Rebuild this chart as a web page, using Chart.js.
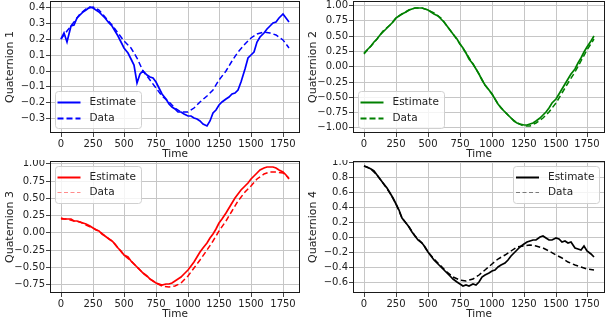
<!DOCTYPE html>
<html><head><meta charset="utf-8">
<script src="https://cdn.jsdelivr.net/npm/chart.js@4.4.1/dist/chart.umd.min.js"></script>
<style>
html,body{margin:0;padding:0;background:#fff;width:606px;height:320px;overflow:hidden}
.c{position:absolute;width:303px;height:160px}
canvas{display:block}
</style></head><body>
<div class="c" style="left:0;top:0"><canvas id="c1" width="303" height="160"></canvas></div>
<div class="c" style="left:303px;top:0"><canvas id="c2" width="303" height="160"></canvas></div>
<div class="c" style="left:0;top:160px"><canvas id="c3" width="303" height="160"></canvas></div>
<div class="c" style="left:303px;top:160px"><canvas id="c4" width="303" height="160"></canvas></div>
<script>
// ---- data ----
const timeEst = [0,25,50,75,100,125,150,175,200,225,250,275,300,325,350,375,400,425,450,475,500,525,550,575,600,625,650,675,700,725,750,775,800,825,850,875,900,925,950,975,1000,1025,1050,1075,1100,1125,1150,1175,1200,1225,1250,1275,1300,1325,1350,1375,1400,1425,1450,1475,1500,1525,1550,1575,1600,1625,1650,1675,1700,1725,1750,1775,1800];
const timeData = [0,50,100,150,200,250,300,350,400,450,500,550,600,650,700,750,800,850,900,950,1000,1050,1100,1150,1200,1250,1300,1350,1400,1450,1500,1550,1600,1650,1700,1750,1800];
const xTickValues = [0,250,500,750,1000,1250,1500,1750];

const q1Estimate = [0.20,0.24,0.18,0.28,0.29,0.33,0.35,0.37,0.385,0.40,
  0.395,0.385,0.37,0.35,0.33,0.30,0.28,0.25,0.22,0.18,
  0.14,0.11,0.07,0.035,-0.08,-0.02,0.00,-0.03,-0.04,-0.05,
  -0.07,-0.11,-0.15,-0.18,-0.21,-0.23,-0.245,-0.26,-0.265,-0.275,
  -0.285,-0.29,-0.30,-0.305,-0.32,-0.335,-0.35,-0.32,-0.27,-0.25,
  -0.22,-0.20,-0.18,-0.17,-0.15,-0.14,-0.12,-0.07,0.01,0.08,
  0.10,0.12,0.18,0.21,0.24,0.26,0.28,0.30,0.31,0.33,
  0.355,0.33,0.31];
const q1Data = [0.20,0.25,0.31,0.36,0.39,0.40,0.38,0.34,0.29,0.24,
  0.19,0.14,0.08,0.00,-0.06,-0.11,-0.16,-0.20,-0.235,-0.26,
  -0.262,-0.235,-0.20,-0.16,-0.12,-0.06,0.00,0.06,0.12,0.17,
  0.205,0.23,0.243,0.24,0.228,0.195,0.145];

const q2Estimate = [0.21,0.27,0.33,0.39,0.45,0.51,0.565,0.625,0.68,0.73,
  0.78,0.82,0.855,0.88,0.91,0.93,0.945,0.95,0.945,0.935,
  0.915,0.89,0.86,0.82,0.77,0.72,0.66,0.59,0.52,0.45,
  0.37,0.29,0.21,0.12,0.04,-0.05,-0.13,-0.22,-0.30,-0.38,
  -0.46,-0.54,-0.61,-0.68,-0.74,-0.80,-0.85,-0.89,-0.92,-0.945,
  -0.955,-0.955,-0.945,-0.92,-0.89,-0.85,-0.80,-0.74,-0.68,-0.60,
  -0.53,-0.45,-0.37,-0.29,-0.21,-0.13,-0.04,0.05,0.14,0.23,
  0.32,0.41,0.50];
const q2Data = [0.20,0.33,0.45,0.57,0.68,0.78,0.85,0.91,0.945,0.95,
  0.92,0.87,0.78,0.66,0.52,0.37,0.21,0.04,-0.13,-0.30,
  -0.46,-0.61,-0.74,-0.85,-0.93,-0.975,-0.97,-0.93,-0.85,-0.74,
  -0.60,-0.44,-0.27,-0.10,0.08,0.26,0.45];

const q3Estimate = [0.21,0.20,0.19,0.19,0.17,0.16,0.15,0.14,0.12,0.09,
  0.07,0.04,0.02,-0.02,-0.05,-0.09,-0.13,-0.17,-0.22,-0.27,
  -0.32,-0.36,-0.41,-0.45,-0.50,-0.55,-0.59,-0.63,-0.67,-0.70,
  -0.73,-0.745,-0.755,-0.75,-0.745,-0.73,-0.705,-0.68,-0.65,-0.60,
  -0.55,-0.49,-0.43,-0.36,-0.29,-0.22,-0.15,-0.08,-0.02,0.05,
  0.13,0.20,0.28,0.35,0.43,0.50,0.56,0.62,0.68,0.72,
  0.77,0.82,0.86,0.90,0.93,0.945,0.95,0.945,0.93,0.90,
  0.87,0.83,0.78];
const q3Data = [0.20,0.19,0.17,0.15,0.115,0.07,0.015,-0.05,-0.13,-0.22,
  -0.32,-0.41,-0.50,-0.59,-0.67,-0.73,-0.77,-0.79,-0.775,-0.725,
  -0.63,-0.52,-0.395,-0.26,-0.12,0.02,0.16,0.31,0.45,0.58,
  0.68,0.77,0.84,0.875,0.88,0.855,0.79];

const q4Estimate = [0.945,0.93,0.91,0.88,0.83,0.78,0.72,0.65,0.59,0.52,
  0.44,0.36,0.26,0.19,0.13,0.07,0.02,-0.03,-0.08,-0.13,
  -0.19,-0.25,-0.30,-0.35,-0.39,-0.43,-0.47,-0.51,-0.55,-0.59,
  -0.62,-0.645,-0.63,-0.65,-0.625,-0.635,-0.60,-0.53,-0.50,-0.48,
  -0.45,-0.43,-0.40,-0.37,-0.34,-0.30,-0.25,-0.21,-0.17,-0.13,
  -0.09,-0.065,-0.05,-0.04,-0.03,0.00,0.02,-0.01,-0.04,-0.03,
  -0.01,-0.02,-0.06,-0.05,-0.08,-0.06,-0.14,-0.15,-0.17,-0.12,
  -0.18,-0.22,-0.26];
const q4Data = [0.95,0.91,0.83,0.72,0.59,0.44,0.26,0.13,0.02,-0.08,
  -0.19,-0.29,-0.38,-0.46,-0.53,-0.575,-0.585,-0.56,-0.50,-0.43,
  -0.36,-0.29,-0.23,-0.18,-0.135,-0.11,-0.10,-0.11,-0.14,-0.18,
  -0.23,-0.28,-0.33,-0.37,-0.40,-0.42,-0.43];

const q1YTicks = [-0.3,-0.2,-0.1,0.0,0.1,0.2,0.3,0.4];
const q2YTicks = [-1.0,-0.75,-0.5,-0.25,0.0,0.25,0.5,0.75,1.0];
const q3YTicks = [-0.75,-0.5,-0.25,0.0,0.25,0.5,0.75,1.0];
const q4YTicks = [-0.6,-0.4,-0.2,0.0,0.2,0.4,0.6,0.8,1.0];

// ---- drawing ----
const FONT = '"DejaVu Sans", sans-serif';
const TEXT = '#222';
const GRID = '#c6c6c6';

const qPlugin = {
  id: 'qlegend',
  afterDatasetsDraw(chart) {
    const {ctx, chartArea: a} = chart;
    ctx.save();
    ctx.strokeStyle = '#1a1a1a'; ctx.lineWidth = 1;
    ctx.strokeRect(a.left + 0.5, a.top + 0.5, a.right - a.left - 1, a.bottom - a.top - 1);
    ctx.restore();
  },
  afterDraw(chart, args, o) {
    const {ctx, chartArea: a} = chart;
    const w = 86, h = 37;
    const x = o.pos.endsWith('right') ? a.right - 6 - w : a.left + 4.5;
    const y = o.pos.startsWith('upper') ? a.top + 4.5 : a.bottom - 5 - h;
    ctx.save();
    ctx.beginPath();
    ctx.roundRect(Math.round(x) + 0.5, Math.round(y) + 0.5, w, h, 3);
    ctx.fillStyle = 'rgba(255,255,255,0.8)'; ctx.fill();
    ctx.strokeStyle = '#d0d0d0'; ctx.lineWidth = 1; ctx.stroke();
    const rows = [
      {label: 'Estimate', dash: [], width: 2, color: o.color},
      {label: 'Data', dash: o.dataDash, width: o.dataWidth, color: o.dataColor}
    ];
    rows.forEach((r, i) => {
      const cy = Math.round(y + 11 + i * 15.6) + 0.5;
      ctx.beginPath();
      ctx.setLineDash(r.dash);
      ctx.lineWidth = r.width; ctx.strokeStyle = r.color;
      ctx.moveTo(x + 3, cy); ctx.lineTo(x + 26, cy); ctx.stroke();
      ctx.setLineDash([]);
      ctx.fillStyle = TEXT; ctx.font = '10.5px ' + FONT;
      ctx.textBaseline = 'middle'; ctx.textAlign = 'left';
      ctx.fillText(r.label, x + 35, cy);
    });
    ctx.restore();
  }
};

function fmt(v, d) {
  const s = Math.abs(v) < 1e-9 ? (0).toFixed(d) : v.toFixed(d);
  return s.replace('-', '\u2212');
}

function makeChart(id, c) {
  const est = c.est.map((v, i) => ({x: timeEst[i], y: v}));
  const dat = c.data.map((v, i) => ({x: timeData[i], y: v}));
  return new Chart(document.getElementById(id), {
    type: 'line',
    data: {datasets: [
      {label: 'Estimate', data: est, borderColor: c.color, borderWidth: 1.7, pointRadius: 0, tension: 0, fill: false, order: 1},
      {label: 'Data', data: dat, borderColor: c.color, borderWidth: 1.5, borderDash: [5.5, 3], pointRadius: 0, tension: 0, fill: false, order: 0}
    ]},
    options: {
      responsive: false, animation: false, devicePixelRatio: 1,
      layout: {padding: {top: 1, right: c.padRight, bottom: 0, left: 0}},
      plugins: {
        legend: {display: false}, tooltip: {enabled: false},
        qlegend: {pos: c.legendPos, color: c.color, dataColor: c.legendDataColor, dataDash: c.legendDash, dataWidth: c.legendDataWidth}
      },
      scales: {
        x: {
          type: 'linear', min: -88, max: 1888, alignToPixels: true,
          afterBuildTicks: s => { s.ticks = xTickValues.map(v => ({value: v})); },
          afterFit: s => { s.height = 27; s.paddingLeft = 0; s.paddingRight = 0; },
          ticks: {font: {family: FONT, size: 10}, color: TEXT, padding: 1, maxRotation: 0, autoSkip: false, callback: v => String(v)},
          grid: {color: GRID, lineWidth: 1, tickLength: 4, tickColor: '#444', drawTicks: true},
          border: {display: false},
          title: {display: true, text: 'Time', color: TEXT, font: {family: FONT, size: 10.5, lineHeight: 1}, padding: {top: 0, bottom: 0}}
        },
        y: {
          type: 'linear', min: c.ymin, max: c.ymax, alignToPixels: true,
          afterBuildTicks: s => { s.ticks = c.yTicks.map(v => ({value: v})); },
          afterFit: s => { s.width = 50; s.paddingTop = 0; s.paddingBottom = 0; },
          ticks: {font: {family: FONT, size: 10}, color: TEXT, padding: 1, autoSkip: false, callback: v => fmt(v, c.dec)},
          grid: {color: GRID, lineWidth: 1, tickLength: 4, tickColor: '#444', drawTicks: true},
          border: {display: false},
          title: {display: true, text: c.ytitle, color: TEXT, font: {family: FONT, size: 11, lineHeight: 1}, padding: {top: 4.5, bottom: 0}}
        }
      }
    },
    plugins: [qPlugin]
  });
}

makeChart('c1', {est: q1Estimate, data: q1Data, color: '#0000ff', ymin: -0.395, ymax: 0.44, yTicks: q1YTicks, dec: 1,
  ytitle: 'Quaternion 1', padRight: 3, legendPos: 'lower left', legendDataColor: '#0000ff', legendDash: [6, 3], legendDataWidth: 2});
makeChart('c2', {est: q2Estimate, data: q2Data, color: '#008000', ymin: -1.09, ymax: 1.065, yTicks: q2YTicks, dec: 2,
  ytitle: 'Quaternion 2', padRight: 1, legendPos: 'lower left', legendDataColor: '#008000', legendDash: [6, 3], legendDataWidth: 2});
makeChart('c3', {est: q3Estimate, data: q3Data, color: '#ff0000', ymin: -0.877, ymax: 1.035, yTicks: q3YTicks, dec: 2,
  ytitle: 'Quaternion 3', padRight: 3, legendPos: 'upper left', legendDataColor: 'rgba(255,0,0,0.45)', legendDash: [4, 2.5], legendDataWidth: 1});
makeChart('c4', {est: q4Estimate, data: q4Data, color: '#000000', ymin: -0.742, ymax: 1.015, yTicks: q4YTicks, dec: 1,
  ytitle: 'Quaternion 4', padRight: 1, legendPos: 'upper right', legendDataColor: 'rgba(0,0,0,0.5)', legendDash: [4, 2.5], legendDataWidth: 1});
</script>
</body></html>
